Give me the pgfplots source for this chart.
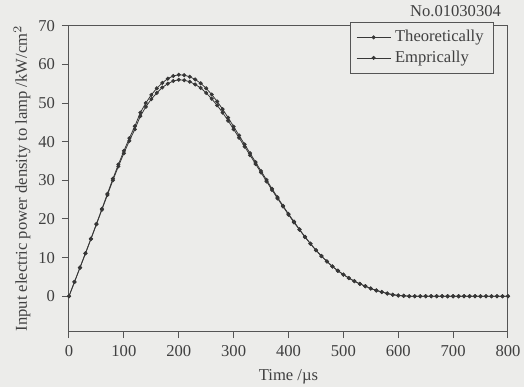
\documentclass[border=0pt]{standalone}
\usepackage{pgfplots}
\pgfplotsset{compat=1.18}
\usepackage{pgfplotstable}
\usepackage{fontspec}
\setmainfont{Liberation Serif}
\definecolor{bg}{RGB}{236,236,234}
\definecolor{ink}{RGB}{55,55,55}
\definecolor{axc}{RGB}{85,85,85}
\pgfplotstableread{
t theo emp
0 0 0
10 3.7 3.7
20 7.4 7.4
30 11.1 11.1
40 14.9 14.8
50 18.7 18.6
60 22.6 22.4
70 26.5 26.2
80 30.4 30.0
90 34.1 33.6
100 37.6 37.0
110 40.9 40.2
120 44.0 43.2
130 47.5 46.6
140 50.0 49.0
150 52.1 51.0
160 53.8 52.6
170 55.2 54.0
180 56.3 55.0
190 57.0 55.7
200 57.3 56.0
210 57.2 55.9
220 56.8 55.5
230 56.1 54.8
240 55.1 53.9
250 53.8 52.6
260 52.2 51.1
270 50.4 49.4
280 48.4 47.5
290 46.2 45.4
300 43.9 43.2
310 41.6 41.0
320 39.3 38.7
330 37.0 36.5
340 34.7 34.2
350 32.4 32.0
360 30.1 29.7
370 27.8 27.5
380 25.6 25.3
390 23.4 23.2
400 21.3 21.1
410 19.3 19.1
420 17.3 17.2
430 15.4 15.3
440 13.6 13.6
450 11.9 11.9
460 10.4 10.4
470 9.0 9.0
480 7.7 7.7
490 6.6 6.6
500 5.6 5.6
510 4.7 4.7
520 3.9 3.9
530 3.2 3.2
540 2.6 2.6
550 2.0 2.0
560 1.5 1.5
570 1.1 1.1
580 0.7 0.7
590 0.4 0.4
600 0.2 0.2
610 0.1 0.1
620 0 0
630 0 0
640 0 0
650 0 0
660 0 0
670 0 0
680 0 0
690 0 0
700 0 0
710 0 0
720 0 0
730 0 0
740 0 0
750 0 0
760 0 0
770 0 0
780 0 0
790 0 0
800 0 0
}\datatable
\begin{document}
\begin{tikzpicture}
\fill[bg, use as bounding box] (-34.5pt,-28pt) rectangle (227.5pt,165.5pt);
\begin{axis}[
  at={(0,0)}, anchor=south west,
  scale only axis,
  width=219.5pt, height=152.65pt,
  xmin=0, xmax=800, ymin=-9, ymax=70,
  xtick={0,100,...,800}, ytick={0,10,...,70},
  axis line style={axc, line width=0.5pt},
  tick style={axc, line width=0.5pt},
  tick align=outside, major tick length=3.5pt,
  xtick pos=left, ytick pos=left,
  font=\fontsize{8.3}{10}\selectfont,
  /pgf/number format/assume math mode=true,
  ticklabel style={font=\fontsize{8.3}{10}\selectfont, text=black!75},
  label style={font=\fontsize{8.3}{10}\selectfont, text=black!75},
  xlabel={Time /µs},
  ylabel={Input electric power density to lamp /kW/cm$^2$},
  x label style={at={(axis description cs:0.5,-0.1605)}, anchor=base},
  y label style={at={(axis description cs:-0.107,0.5)}, anchor=center},
  legend style={at={(rel axis cs:0.968,1.013)}, anchor=north east,
    draw=axc, fill=bg, font=\fontsize{8.3}{10}\selectfont, text=black!75,
    inner xsep=3pt, inner ysep=2pt, row sep=-1pt},
  legend cell align=left,
  clip=false,
]
\addplot[ink, line width=0.4pt, mark=*, mark size=0.8pt, mark options={fill=ink, draw=ink}] table[x=t, y=theo] {\datatable};
\addlegendentry{Theoretically}
\addplot[ink, line width=0.4pt, mark=*, mark size=0.8pt, mark options={fill=ink, draw=ink}] table[x=t, y=emp] {\datatable};
\addlegendentry{Emprically}
\node[anchor=base east, font=\fontsize{8.3}{10}\selectfont, text=black!75] at (rel axis cs:1,1.0295) {No.01030304};
\end{axis}
\end{tikzpicture}
\end{document}
